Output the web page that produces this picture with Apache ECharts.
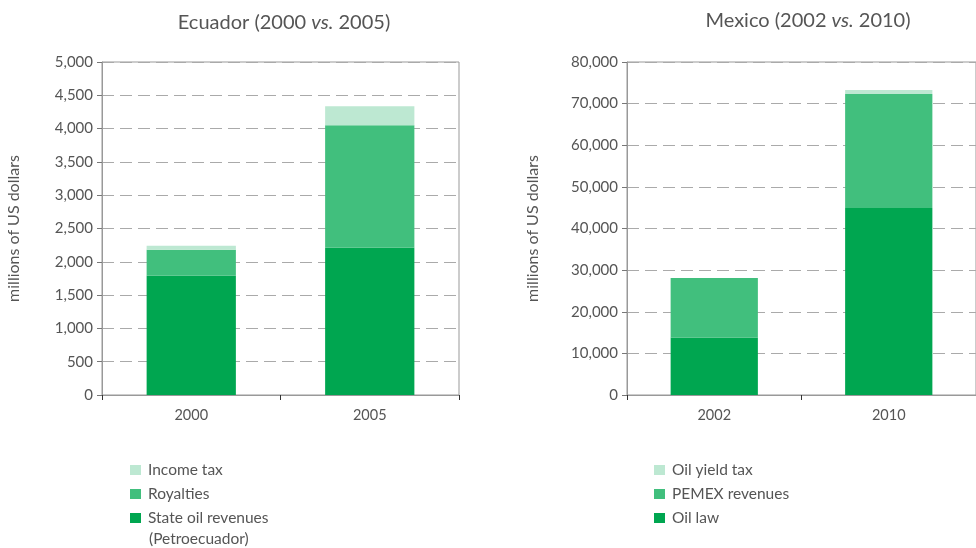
<!DOCTYPE html>
<html>
<head>
<meta charset="utf-8">
<script src="https://cdn.jsdelivr.net/npm/echarts@6/dist/echarts.min.js"></script>
<style>
  html, body { margin: 0; padding: 0; background: #fff; }
  #chart { width: 976px; height: 548px; }
</style>
</head>
<body>
<div id="chart"></div>
<script>
// Ecuador, millions of US dollars
const ecYears = ['2000', '2005'];
const ecState = [1790, 2210];
const ecRoyalties = [390, 1840];
const ecIncomeTax = [60, 285];

// Mexico, millions of US dollars
const mxYears = ['2002', '2010'];
const mxOilLaw = [13800, 44900];
const mxPemex = [14300, 27400];
const mxYieldTax = [0, 950];

const dark = '#00a650';
const mid = '#41bf7d';
const light = '#bde8d2';
const textGray = '#555';
const font = 'Lato';

const chart = echarts.init(document.getElementById('chart'));

function fmt(v) {
  return v.toLocaleString('en-US');
}

function yAxis(gridIndex, max, interval) {
  return {
    type: 'value',
    gridIndex: gridIndex,
    min: 0,
    max: max,
    interval: interval,
    name: 'millions of US dollars',
    nameLocation: 'middle',
    nameGap: gridIndex === 0 ? 80 : 86,
    nameTextStyle: { color: textGray, fontSize: 16, fontFamily: font },
    axisLine: { show: true, lineStyle: { color: '#999' } },
    axisTick: { show: true, length: 5, lineStyle: { color: '#777' } },
    axisLabel: { color: textGray, fontSize: 15, fontFamily: font, margin: 9, formatter: fmt },
    splitLine: { show: true, lineStyle: { color: '#aaa', type: [12, 6], width: 1 } }
  };
}

function xAxis(gridIndex, cats) {
  return {
    type: 'category',
    gridIndex: gridIndex,
    data: cats,
    axisLine: { show: true, lineStyle: { color: '#999' } },
    axisTick: { show: true, length: 5, lineStyle: { color: '#333' } },
    axisLabel: { color: textGray, fontSize: 14.5, fontFamily: font, margin: 13 }
  };
}

function bar(name, data, color, axisIdx, stack) {
  return {
    name: name,
    type: 'bar',
    stack: stack,
    xAxisIndex: axisIdx,
    yAxisIndex: axisIdx,
    barWidth: '50%',
    itemStyle: { color: color },
    data: data
  };
}

const titleRich = {
  n: { fontSize: 20, color: textGray, fontFamily: font, fontWeight: 'normal' },
  i: { fontSize: 20, color: textGray, fontFamily: font, fontWeight: 'normal', fontStyle: 'italic' }
};

const legendBase = {
  orient: 'vertical',
  itemWidth: 11,
  itemHeight: 10,
  itemGap: 8,
  icon: 'rect',
  textStyle: { color: textGray, fontSize: 15.5, fontFamily: font, padding: [0, 0, 0, 2] }
};

chart.setOption({
  animation: false,
  title: [
    { text: '{n|Ecuador (2000 }{i|vs.}{n| 2005)}', left: 279, top: 8, textAlign: 'center',
      textStyle: { fontWeight: 'normal', rich: titleRich } },
    { text: '{n|Mexico (2002 }{i|vs.}{n| 2010)}', left: 803, top: 6, textAlign: 'center',
      textStyle: { fontWeight: 'normal', rich: titleRich } }
  ],
  grid: [
    { left: 102, top: 62, width: 357, height: 333, show: true, borderColor: '#999', borderWidth: 1 },
    { left: 627, top: 62, width: 358, height: 333, show: true, borderColor: '#999', borderWidth: 1 }
  ],
  xAxis: [xAxis(0, ecYears), xAxis(1, mxYears)],
  yAxis: [yAxis(0, 5000, 500), yAxis(1, 80000, 10000)],
  legend: [
    Object.assign({}, legendBase, {
      left: 125, top: 457,
      data: ['Income tax', 'Royalties', 'State oil revenues']
    }),
    Object.assign({}, legendBase, {
      left: 649, top: 457,
      data: ['Oil yield tax', 'PEMEX revenues', 'Oil law']
    })
  ],
  graphic: [
    { type: 'text', left: 149, top: 531,
      style: { text: '(Petroecuador)', fill: textGray, fontSize: 15.5, fontFamily: font } }
  ],
  series: [
    bar('State oil revenues', ecState, dark, 0, 'ec'),
    bar('Royalties', ecRoyalties, mid, 0, 'ec'),
    bar('Income tax', ecIncomeTax, light, 0, 'ec'),
    bar('Oil law', mxOilLaw, dark, 1, 'mx'),
    bar('PEMEX revenues', mxPemex, mid, 1, 'mx'),
    bar('Oil yield tax', mxYieldTax, light, 1, 'mx')
  ]
});
</script>
</body>
</html>
